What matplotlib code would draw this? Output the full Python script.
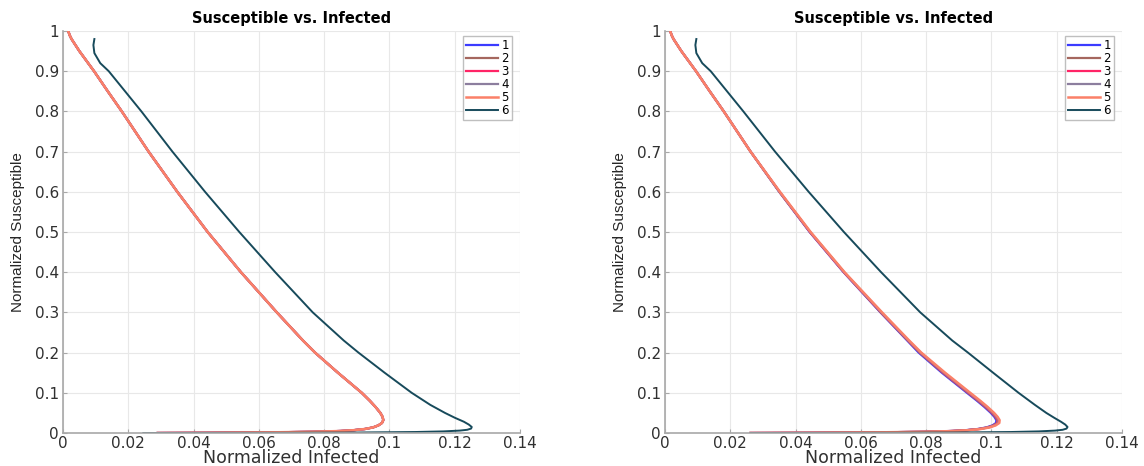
import matplotlib
matplotlib.use("Agg")
import matplotlib.pyplot as plt
from matplotlib.ticker import FuncFormatter

# susceptible levels (y) shared by series 1-5
s_vals = [1.0, 0.99, 0.98, 0.95, 0.9, 0.85, 0.8, 0.7, 0.6, 0.5, 0.4, 0.3, 0.23, 0.2, 0.15,
          0.1, 0.08, 0.065, 0.05, 0.04, 0.032, 0.025, 0.019, 0.014, 0.01, 0.007, 0.005,
          0.003, 0.0015, 0.0005, 0.0]
# susceptible levels for series 6
s_vals_6 = [0.98, 0.965, 0.945, 0.92, 0.9, 0.8, 0.7, 0.6, 0.5, 0.4, 0.3, 0.23, 0.2, 0.15,
            0.1, 0.07, 0.05, 0.038, 0.028, 0.021, 0.015, 0.011, 0.008, 0.006, 0.004,
            0.0025, 0.0012, 0.0004, 0.0]

# left panel, infected values (series 1-5 lie on top of each other)
left_i_1to5 = [0.0016, 0.0020, 0.0026, 0.0050, 0.0095, 0.0137, 0.0180, 0.0262, 0.0350, 0.0443,
               0.0545, 0.0655, 0.0735, 0.0772, 0.0842, 0.0915, 0.0940, 0.0957, 0.0972, 0.0979,
               0.0981, 0.0977, 0.0966, 0.0950, 0.0925, 0.0890, 0.0850, 0.0765, 0.0625, 0.0450,
               0.0290]
left_i_6 = [0.0096, 0.0093, 0.0096, 0.0114, 0.0140, 0.0240, 0.0335, 0.0435, 0.0540, 0.0650,
            0.0765, 0.0860, 0.0905, 0.0985, 0.1068, 0.1125, 0.1170, 0.1200, 0.1228, 0.1243,
            0.1252, 0.1250, 0.1238, 0.1215, 0.1165, 0.1080, 0.0900, 0.0600, 0.0246]

# right panel, infected values
right_i_1 = [0.0016, 0.0020, 0.0026, 0.0050, 0.0095, 0.0137, 0.0180, 0.0262, 0.0350, 0.0443,
             0.0547, 0.0660, 0.0742, 0.0777, 0.0848, 0.0925, 0.0956, 0.0978, 0.0998, 0.1009,
             0.1015, 0.1014, 0.1003, 0.0985, 0.0958, 0.0920, 0.0876, 0.0793, 0.0636, 0.0450,
             0.0262]
right_i_2 = [0.0016, 0.0020, 0.0026, 0.0050, 0.0095, 0.0137, 0.0180, 0.0262, 0.0350, 0.0444,
             0.0548, 0.0661, 0.0744, 0.0780, 0.0851, 0.0928, 0.0959, 0.0981, 0.1001, 0.1012,
             0.1018, 0.1017, 0.1006, 0.0988, 0.0961, 0.0923, 0.0879, 0.0795, 0.0637, 0.0450,
             0.0262]
right_i_3 = [0.0016, 0.0020, 0.0026, 0.0050, 0.0095, 0.0137, 0.0180, 0.0262, 0.0351, 0.0444,
             0.0548, 0.0662, 0.0745, 0.0782, 0.0853, 0.0930, 0.0961, 0.0983, 0.1003, 0.1014,
             0.1020, 0.1019, 0.1008, 0.0990, 0.0963, 0.0925, 0.0881, 0.0797, 0.0638, 0.0450,
             0.0262]
right_i_4 = [0.0016, 0.0020, 0.0026, 0.0050, 0.0095, 0.0137, 0.0180, 0.0262, 0.0351, 0.0445,
             0.0549, 0.0663, 0.0746, 0.0783, 0.0855, 0.0932, 0.0963, 0.0985, 0.1005, 0.1016,
             0.1022, 0.1021, 0.1010, 0.0992, 0.0965, 0.0927, 0.0883, 0.0798, 0.0639, 0.0450,
             0.0262]
right_i_5 = [0.0016, 0.0020, 0.0026, 0.0050, 0.0095, 0.0137, 0.0180, 0.0262, 0.0352, 0.0446,
             0.0550, 0.0665, 0.0748, 0.0785, 0.0858, 0.0935, 0.0966, 0.0988, 0.1008, 0.1019,
             0.1025, 0.1024, 0.1013, 0.0995, 0.0968, 0.0930, 0.0885, 0.0800, 0.0640, 0.0450,
             0.0262]
right_i_6 = [0.0096, 0.0093, 0.0096, 0.0114, 0.0140, 0.0240, 0.0337, 0.0440, 0.0548, 0.0662,
             0.0782, 0.0880, 0.0928, 0.1005, 0.1083, 0.1133, 0.1168, 0.1192, 0.1213, 0.1226,
             0.1233, 0.1230, 0.1218, 0.1195, 0.1145, 0.1060, 0.0880, 0.0590, 0.0262]

labels = ["1", "2", "3", "4", "5", "6"]
colors = ["#3b3bff", "#a5675e", "#ff2466", "#8c7e9e", "#fb8068", "#174a5b"]
widths = [1.6, 1.6, 1.6, 1.6, 1.8, 1.4]

x_ticks = [0, 0.02, 0.04, 0.06, 0.08, 0.1, 0.12, 0.14]
y_ticks = [0, 0.1, 0.2, 0.3, 0.4, 0.5, 0.6, 0.7, 0.8, 0.9, 1]

title = "Susceptible vs. Infected"
x_label = "Normalized Infected"
y_label = "Normalized Susceptible"


def style_axes(ax):
    ax.set_xlim(0, 0.14)
    ax.set_ylim(0, 1)
    ax.set_xticks(x_ticks)
    ax.set_yticks(y_ticks)
    fmt = FuncFormatter(lambda v, pos: "%g" % round(v, 3))
    ax.xaxis.set_major_formatter(fmt)
    ax.yaxis.set_major_formatter(fmt)
    ax.grid(True, color="#e8e8e8", linewidth=0.8)
    ax.set_axisbelow(True)
    for side in ["top", "right"]:
        ax.spines[side].set_visible(False)
    for side in ["left", "bottom"]:
        ax.spines[side].set_color("#a8a8a8")
        ax.spines[side].set_linewidth(1.2)
    ax.tick_params(direction="in", length=3, color="#a8a8a8", labelsize=11,
                   labelcolor="#303030", pad=3)
    ax.tick_params(axis="x", pad=2)
    ax.set_title(title, fontsize=10.5, fontweight="bold", pad=6)
    ax.set_xlabel(x_label, fontsize=12.5, color="#303030", labelpad=-1)
    ax.set_ylabel(y_label, fontsize=11, color="#262626", labelpad=7,
                  family=["Liberation Sans", "DejaVu Sans"])
    ax.legend(loc="upper right", bbox_to_anchor=(1 - 8 / 457, 1 - 5 / 402),
              borderaxespad=0, fontsize=8.5, frameon=True, fancybox=False,
              edgecolor="#b0b0b0", handlelength=2.7, handletextpad=0.3,
              labelspacing=0.0, borderpad=0.25)


fig = plt.figure(figsize=(11.44, 4.66), dpi=100)
ax1 = fig.add_axes([0.0551, 0.0708, 0.3995, 0.8627])
ax2 = fig.add_axes([0.5813, 0.0708, 0.3995, 0.8627])

left_series = [left_i_1to5] * 5
for k in range(5):
    ax1.plot(left_series[k], s_vals, color=colors[k], lw=widths[k], label=labels[k])
ax1.plot(left_i_6, s_vals_6, color=colors[5], lw=widths[5], label=labels[5])

right_series = [right_i_1, right_i_2, right_i_3, right_i_4, right_i_5]
for k in range(5):
    ax2.plot(right_series[k], s_vals, color=colors[k], lw=widths[k], label=labels[k])
ax2.plot(right_i_6, s_vals_6, color=colors[5], lw=widths[5], label=labels[5])

style_axes(ax1)
style_axes(ax2)

fig.savefig("out.png", dpi=100)
